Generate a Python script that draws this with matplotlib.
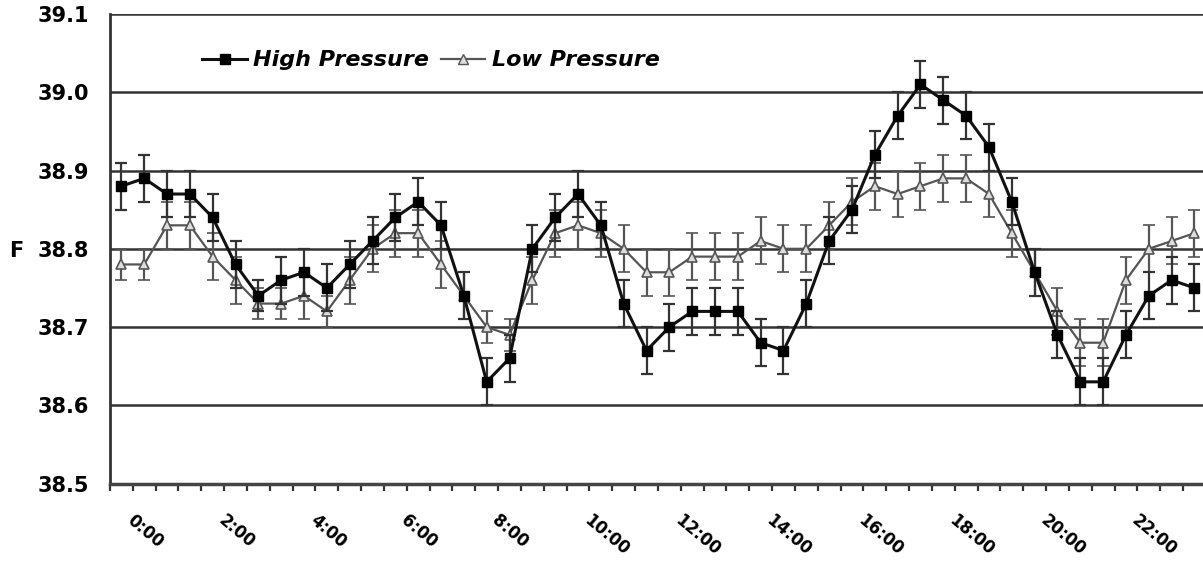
import numpy as np
import matplotlib.pyplot as plt
import matplotlib.transforms as mtrans
from matplotlib.lines import Line2D

plt.rcParams['font.family'] = ['DejaVu Sans']

# half-hour time points 0:00 .. 23:30
times = ['%d:%02d' % (h, m) for h in range(24) for m in (0, 30)]

high = [38.88, 38.89, 38.87, 38.87, 38.84, 38.78, 38.74, 38.76, 38.77, 38.75,
        38.78, 38.81, 38.84, 38.86, 38.83, 38.74, 38.63, 38.66, 38.80, 38.84,
        38.87, 38.83, 38.73, 38.67, 38.70, 38.72, 38.72, 38.72, 38.68, 38.67,
        38.73, 38.81, 38.85, 38.92, 38.97, 39.01, 38.99, 38.97, 38.93, 38.86,
        38.77, 38.69, 38.63, 38.63, 38.69, 38.74, 38.76, 38.75]
high_err = [0.03, 0.03, 0.03, 0.03, 0.03, 0.03, 0.02, 0.03, 0.03, 0.03,
            0.03, 0.03, 0.03, 0.03, 0.03, 0.03, 0.03, 0.03, 0.03, 0.03,
            0.03, 0.03, 0.03, 0.03, 0.03, 0.03, 0.03, 0.03, 0.03, 0.03,
            0.03, 0.03, 0.03, 0.03, 0.03, 0.03, 0.03, 0.03, 0.03, 0.03,
            0.03, 0.03, 0.03, 0.03, 0.03, 0.03, 0.03, 0.03]

low = [38.78, 38.78, 38.83, 38.83, 38.79, 38.76, 38.73, 38.73, 38.74, 38.72,
       38.76, 38.80, 38.82, 38.82, 38.78, 38.74, 38.70, 38.69, 38.76, 38.82,
       38.83, 38.82, 38.80, 38.77, 38.77, 38.79, 38.79, 38.79, 38.81, 38.80,
       38.80, 38.83, 38.86, 38.88, 38.87, 38.88, 38.89, 38.89, 38.87, 38.82,
       38.77, 38.72, 38.68, 38.68, 38.76, 38.80, 38.81, 38.82]
low_err = [0.02, 0.02, 0.03, 0.03, 0.03, 0.03, 0.02, 0.02, 0.03, 0.02,
           0.03, 0.03, 0.03, 0.03, 0.03, 0.03, 0.02, 0.02, 0.03, 0.03,
           0.03, 0.03, 0.03, 0.03, 0.03, 0.03, 0.03, 0.03, 0.03, 0.03,
           0.03, 0.03, 0.03, 0.03, 0.03, 0.03, 0.03, 0.03, 0.03, 0.03,
           0.03, 0.03, 0.03, 0.03, 0.03, 0.03, 0.03, 0.03]

yticks = [38.5, 38.6, 38.7, 38.8, 38.9, 39.0, 39.1]

x = np.arange(len(times))

fig = plt.figure(figsize=(12.03, 5.61), dpi=100)
ax = fig.add_axes([0.0914, 0.138, 0.911, 0.837])

# horizontal grid lines
for yv in yticks[1:]:
    ax.axhline(yv, color='#333333', lw=1.8, zorder=1)

ax.errorbar(x, low, yerr=low_err, color='#555555', lw=1.6, marker='^', ms=7,
            mfc='#dddddd', mec='#555555', mew=1.2, ecolor='#555555',
            elinewidth=1.6, capsize=4, capthick=1.6, zorder=3)
ax.errorbar(x, high, yerr=high_err, color='#111111', lw=2.2, marker='s', ms=7,
            mfc='black', mec='black', ecolor='#333333',
            elinewidth=1.6, capsize=4, capthick=1.6, zorder=4)

ax.set_xlim(-0.5, len(times) - 0.5)
ax.set_ylim(38.5, 39.1)
ax.set_yticks(yticks)
ax.set_yticklabels(['%.1f' % v for v in yticks], fontsize=15, fontweight='bold')
ax.tick_params(axis='y', length=0, pad=15)

ax.set_xticks(np.arange(-0.5, len(times), 1), minor=True)
ax.set_xticks(x[::4])
ax.set_xticklabels(times[::4], rotation=-40, ha='left', va='center',
                   rotation_mode='anchor', fontsize=12, fontweight='bold')
ax.tick_params(axis='x', which='major', length=0, pad=25)
ax.tick_params(axis='x', which='minor', length=5, width=1.6, color='#333333', direction='out')
shift = mtrans.ScaledTranslation(0.08, 0, fig.dpi_scale_trans)
for t in ax.get_xticklabels():
    t.set_transform(t.get_transform() + shift)

for s in ['top', 'right']:
    ax.spines[s].set_visible(False)
ax.spines['left'].set_linewidth(2)
ax.spines['bottom'].set_linewidth(2.5)
ax.spines['left'].set_color('#333333')
ax.spines['bottom'].set_color('#444444')

fig.text(0.008, 0.553, 'F', fontsize=15, fontweight='bold', va='center')

handles = [Line2D([], [], color='#111111', lw=2.2, marker='s', ms=7, mfc='black', mec='black'),
           Line2D([], [], color='#555555', lw=1.6, marker='^', ms=7, mfc='#dddddd', mec='#555555')]
ax.legend(handles, ['High Pressure', 'Low Pressure'], loc='upper left',
          bbox_to_anchor=(0.066, 0.965), ncol=2, frameon=False,
          handlelength=2.0, columnspacing=0.5, handletextpad=0.3,
          prop={'size': 16, 'weight': 'bold', 'style': 'italic'})

fig.savefig('out.png', dpi=100)
